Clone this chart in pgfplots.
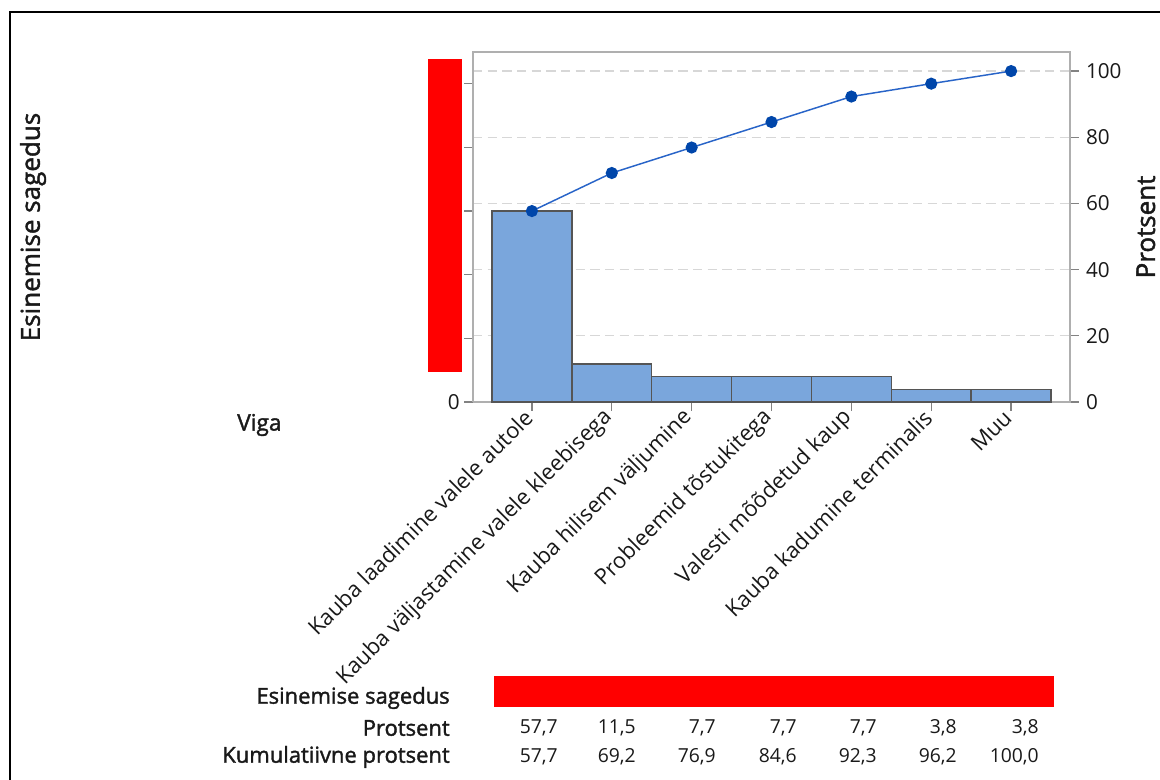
\documentclass[border=0pt]{standalone}
\usepackage{pgfplots}
\pgfplotsset{compat=1.18}
\usepackage{fontspec}
\setmainfont{Open Sans}
\newfontfamily\sbfont[FakeBold=1.6]{Open Sans}
\definecolor{barfill}{RGB}{122,166,220}
\definecolor{baredge}{RGB}{85,85,85}
\definecolor{linecol}{RGB}{40,100,200}
\definecolor{markcol}{RGB}{0,70,170}
\definecolor{framegray}{RGB}{175,175,175}
\definecolor{gridgray}{RGB}{215,215,215}
\definecolor{tickgray}{RGB}{130,130,130}
\definecolor{txt}{RGB}{25,25,25}
\definecolor{redact}{RGB}{255,0,0}
\begin{document}
\begin{tikzpicture}
\begin{scope}[x=0.75pt,y=0.75pt]
\path[use as bounding box] (0,0) rectangle (1160,780);
\fill[white] (0,0) rectangle (1160,780);
\draw[black, line width=1.5pt] (10,0) -- (10,768) -- (1160,768);
\end{scope}
% right (percent) axis with bars and cumulative line
\begin{axis}[
  at={(354.75pt,283.5pt)}, anchor=south west, scale only axis,
  width=447.75pt, height=262.5pt,
  xmin=-0.7375, xmax=6.7375, ymin=0, ymax=105.77,
  clip=false,
  axis line style={framegray, line width=1pt},
  xtick={0,...,6},
  xticklabels={Kauba laadimine valele autole, Kauba väljastamine valele kleebisega, Kauba hilisem väljumine, Probleemid tõstukitega, Valesti mõõdetud kaup, Kauba kadumine terminalis, Muu},
  xtick pos=bottom,
  ytick={0,20,...,100},
  ytick pos=right, yticklabel pos=right,
  tick align=outside,
  major tick length=6.5pt,
  tick style={tickgray, line width=1pt},
  ymajorgrids, grid style={gridgray, dash pattern=on 7pt off 4pt, line width=1pt},
  /pgf/number format/assume math mode=true,
  yticklabel style={font=\fontsize{15.5}{18}\selectfont, text=txt, xshift=2pt},
  xticklabel style={font=\fontsize{16.5}{19}\selectfont, text=txt, rotate=45, anchor=east},
  ylabel={Protsent},
  every axis y label/.style={at={(rel axis cs:1.127,0.5)}, rotate=90, anchor=center, font=\sbfont\fontsize{19.5}{22}\selectfont, text=txt},
]
\addplot[ybar, bar width=1, bar shift=0pt, fill=barfill, draw=baredge, line width=1.1pt]
  coordinates {(0,57.7)(1,11.5)(2,7.7)(3,7.7)(4,7.7)(5,3.8)(6,3.8)};
\addplot[linecol, line width=1.1pt, mark=*, mark size=4pt, mark options={draw=markcol, fill=markcol}]
  coordinates {(0,57.7)(1,69.2)(2,76.9)(3,84.6)(4,92.3)(5,96.2)(6,100.0)};
\end{axis}
% left (count) axis
\begin{axis}[
  at={(354.75pt,283.5pt)}, anchor=south west, scale only axis,
  width=447.75pt, height=262.5pt,
  xmin=-0.7375, xmax=6.7375, ymin=0, ymax=27.5,
  hide x axis,
  axis y line*=left,
  axis line style={framegray, line width=1pt, -},
  ytick={0,5,...,25},
  tick align=outside,
  major tick length=6.5pt,
  tick style={tickgray, line width=1pt},
  /pgf/number format/assume math mode=true,
  yticklabel style={font=\fontsize{15.5}{18}\selectfont, text=txt},
  ylabel={Esinemise sagedus},
  every axis y label/.style={at={(rel axis cs:-0.737,0.5)}, rotate=90, anchor=center, font=\sbfont\fontsize{19.5}{22}\selectfont, text=txt},
]
\addplot[draw=none] coordinates {(0,0)};
\end{axis}
\begin{scope}[x=0.75pt,y=0.75pt]
% redaction boxes
\fill[redact] (428,721) rectangle (462,408);
\fill[redact] (494,104) rectangle (1054,73);
% labels
\node[anchor=west, inner sep=0pt, text=txt, font=\sbfont\fontsize{17}{19}\selectfont] at (237,355) {Viga};
\begin{scope}[every node/.style={anchor=east, text=txt, font=\sbfont\fontsize{16.5}{19}\selectfont, inner sep=0pt}]
\node at (450,82) {Esinemise sagedus};
\node at (450,52) {Protsent};
\node at (450,23) {Kumulatiivne protsent};
\end{scope}
\begin{scope}[every node/.style={anchor=east, text=txt, font=\fontsize{14.5}{17}\selectfont, inner sep=0pt}]
\node at (558,52) {57,7}; \node at (636,52) {11,5}; \node at (716,52) {7,7};
\node at (797,52) {7,7}; \node at (877,52) {7,7}; \node at (957,52) {3,8}; \node at (1039,52) {3,8};
\node at (558,23) {57,7}; \node at (636,23) {69,2}; \node at (716,23) {76,9};
\node at (797,23) {84,6}; \node at (877,23) {92,3}; \node at (957,23) {96,2}; \node at (1039,23) {100,0};
\end{scope}
\end{scope}
\end{tikzpicture}
\end{document}
